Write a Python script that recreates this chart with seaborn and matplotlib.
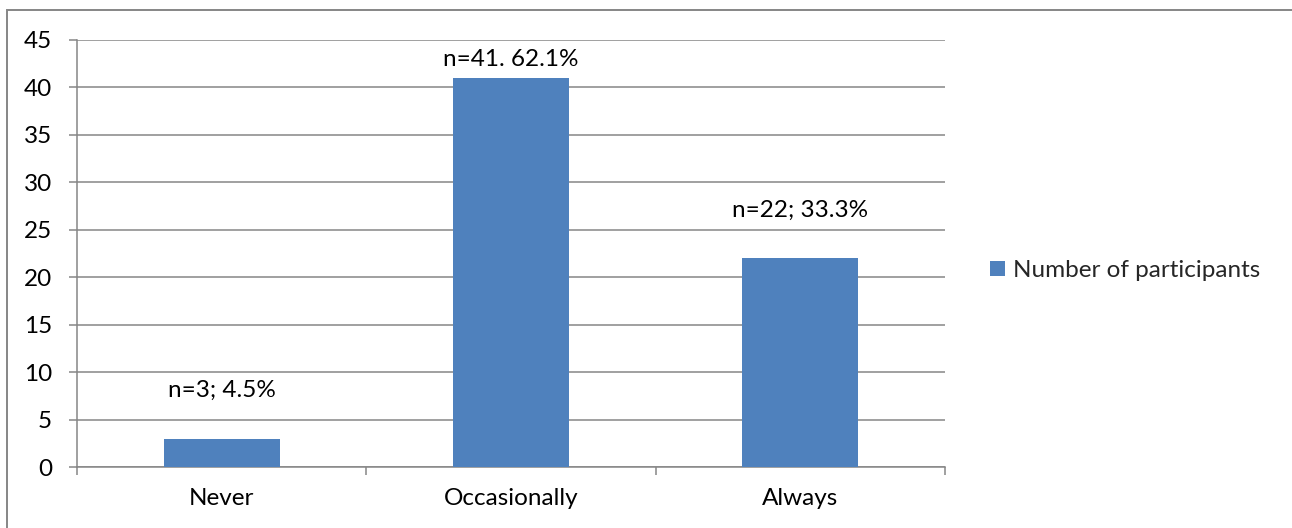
import matplotlib
matplotlib.use("Agg")
import matplotlib.pyplot as plt
from matplotlib.patches import Rectangle
import seaborn as sns
import pandas as pd

# Survey responses
categories = ["Never", "Occasionally", "Always"]
participants = [3, 41, 22]
percentages = [4.5, 62.1, 33.3]
separators = [";", ".", ";"]
series_name = "Number of participants"
y_ticks = [0, 5, 10, 15, 20, 25, 30, 35, 40, 45]

df = pd.DataFrame({"Frequency": categories, series_name: participants})

sns.set_theme(style="white")
plt.rcParams["font.family"] = ["Lato", "DejaVu Sans"]

BAR = "#4F81BD"
GRID = "#868686"
FS = 17.5

fig = plt.figure(figsize=(12.92, 5.28), dpi=100)
ax = fig.add_axes([77 / 1292, 1 - 467 / 528, (945 - 77) / 1292, (467 - 40) / 528])

sns.barplot(data=df, x="Frequency", y=series_name, color=BAR, width=0.4,
            saturation=1, ax=ax, label=series_name, zorder=3, linewidth=0)

ax.set_xlim(-0.5, len(categories) - 0.5)
ax.set_ylim(0, 45)
ax.set_yticks(y_ticks)
ax.set_xlabel("")
ax.set_ylabel("")

# value labels above bars
label_offsets = [5.1, 1.9, 5.0]
for i, (n, p, s) in enumerate(zip(participants, percentages, separators)):
    ax.text(i, n + label_offsets[i], f"n={n}{s} {p}%", ha="center", va="center",
            fontsize=FS, color="black")

# horizontal gridlines
ax.yaxis.grid(True, color=GRID, linewidth=1.1, zorder=0)
ax.xaxis.grid(False)
for side in ["top", "right"]:
    ax.spines[side].set_visible(False)
for side in ["left", "bottom"]:
    ax.spines[side].set_color(GRID)
    ax.spines[side].set_linewidth(1.1)

# category ticks between groups, labels centred under bars
ax.set_xticks([i - 0.5 for i in range(len(categories) + 1)], minor=True)
ax.tick_params(axis="x", which="minor", length=6, width=1.1, color=GRID, direction="out")
ax.tick_params(axis="x", which="major", length=0, pad=15, labelsize=FS, labelcolor="black")
ax.tick_params(axis="y", which="major", length=6, width=1.1, color=GRID, direction="out",
               pad=12, labelsize=FS, labelcolor="black")
ax.tick_params(left=True, bottom=True)
ax.tick_params(axis="x", which="minor", bottom=True)

leg = ax.legend(loc="center left", bbox_to_anchor=(1.027, 0.46), frameon=False,
                fontsize=FS, handlelength=0.6, handleheight=0.6, handletextpad=0.35)

# outer chart frame
fig.patches.append(Rectangle((7 / 1292, -0.05), 1.1, 1 - 10 / 528 + 0.05,
                             transform=fig.transFigure, fill=False,
                             edgecolor=GRID, linewidth=1.4))

fig.savefig("out.png", dpi=100)
